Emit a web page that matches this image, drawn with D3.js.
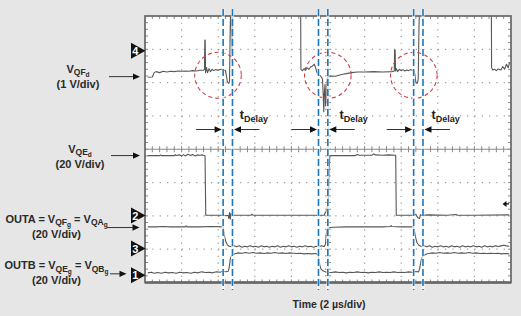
<!DOCTYPE html>
<html><head><meta charset="utf-8">
<script src="https://cdn.jsdelivr.net/npm/d3@7"></script>
<style>
html,body{margin:0;padding:0;background:#e6e6e6;}
svg{display:block;font-family:"Liberation Sans",Arial,sans-serif;}
</style></head><body>
<svg id="c" width="521" height="316"></svg>
<script>
// ---- data (time in µs, voltage in screen divisions from centre) ----
const ch4VQFd = [[0.15,2.16],[0.4,2.17],[0.5,2.3],[0.6,2.33],[0.8,2.3],[1.0,2.34],[1.2,2.32],[1.4,2.34],[1.6,2.33],[1.8,2.35],[2.0,2.34],[2.2,2.35],[2.4,2.34],[2.6,2.36],[2.8,2.35],[3.0,2.37],[3.2,2.37],[3.25,2.4],[3.27,3.28],[3.29,3.28],[3.31,2.3],[3.36,2.45],[3.42,2.3],[3.5,2.42],[3.58,2.33],[3.66,2.4],[3.75,2.36],[3.85,2.39],[4.0,2.37],[4.15,2.4],[4.3,2.38],[4.4,2.36],[4.45,2.2],[4.5,2.02],[4.58,1.98],[4.62,2.05],[4.65,3.4],[4.68,4.3],[4.71,4.2],[4.73,3.1],[4.76,2.9],[4.78,3.5],[4.8,4.5],[4.85,5],[8.5,5],[8.52,2.4],[8.6,2.36],[8.7,2.42],[8.78,2.37],[8.85,2.45],[8.95,2.4],[9.05,2.47],[9.15,2.5],[9.25,2.55],[9.32,2.45],[9.4,2.3],[9.5,2.22],[9.6,2.2],[9.7,2.1],[9.74,1.6],[9.77,1.13],[9.8,1.7],[9.84,1.95],[9.87,1.3],[9.9,1.4],[9.93,2.0],[9.97,2.15],[10.0,2.18],[10.2,2.2],[10.4,2.19],[10.6,2.22],[10.8,2.25],[11.0,2.27],[11.3,2.3],[11.6,2.32],[12.0,2.32],[12.5,2.33],[13.0,2.32],[13.5,2.33],[13.62,2.35],[13.64,2.98],[13.67,2.98],[13.69,2.35],[13.74,2.42],[13.8,2.33],[13.9,2.4],[14.0,2.36],[14.1,2.39],[14.2,2.35],[14.3,2.38],[14.4,2.36],[14.5,2.39],[14.6,2.37],[14.7,2.38],[14.76,2.2],[14.8,2.0],[14.88,1.98],[14.93,2.1],[14.97,3.6],[15.0,4.3],[15.05,4.5],[15.1,5],[18.92,5],[18.94,2.45],[19.0,2.38],[19.1,2.4],[19.2,2.36],[19.3,2.41],[19.45,2.38],[19.55,2.48],[19.65,2.4],[19.75,2.55],[19.85,2.45],[19.92,2.6]];
const ch2VQEd = [[0.15,-0.19],[0.8,-0.19],[0.85,-0.17],[0.9,-0.19],[1.6,-0.19],[1.65,-0.16],[1.7,-0.19],[1.9,-0.17],[2.0,-0.2],[2.1,-0.16],[2.2,-0.2],[2.35,-0.15],[2.5,-0.19],[2.6,-0.16],[2.75,-0.2],[2.85,-0.17],[3.0,-0.18],[3.15,-0.17],[3.28,-0.2],[3.32,-1.98],[4.2,-1.98],[4.55,-1.99],[4.58,-2.08],[4.62,-1.9],[4.66,-2.1],[4.7,-1.92],[4.74,-2.0],[4.8,-1.98],[5.8,-1.98],[5.85,-1.95],[5.9,-1.98],[9.8,-1.98],[9.85,-1.9],[9.9,-1.86],[9.95,-1.8],[10.02,-1.5],[10.06,-0.6],[10.1,-0.2],[10.2,-0.19],[11.5,-0.19],[11.6,-0.16],[11.7,-0.18],[12.4,-0.18],[12.5,-0.14],[12.6,-0.17],[13.0,-0.18],[13.3,-0.17],[13.7,-0.18],[13.73,-1.98],[14.7,-1.98],[14.8,-1.95],[14.9,-2.05],[15.0,-2.08],[15.05,-1.96],[15.1,-1.98],[15.5,-1.97],[16.5,-1.98],[17.0,-1.96],[17.05,-1.98],[18.0,-1.98],[19.9,-1.97]];
const ch3OUTA = [[0.15,-2.33],[0.6,-2.33],[1.0,-2.32],[1.4,-2.33],[2.2,-2.33],[2.25,-2.3],[2.3,-2.33],[3.0,-2.33],[3.6,-2.32],[4.27,-2.33],[4.3,-2.45],[4.35,-2.62],[4.42,-2.78],[4.5,-2.87],[4.6,-2.91],[4.7,-2.93],[4.85,-2.9],[5.0,-2.93],[5.15,-2.9],[5.3,-2.94],[5.45,-2.91],[5.6,-2.93],[5.75,-2.9],[5.9,-2.93],[6.05,-2.91],[6.2,-2.94],[6.35,-2.9],[6.5,-2.93],[6.65,-2.91],[6.8,-2.94],[6.95,-2.91],[7.1,-2.93],[7.25,-2.9],[7.4,-2.94],[7.55,-2.91],[7.7,-2.93],[7.85,-2.9],[8.0,-2.93],[8.15,-2.91],[8.3,-2.94],[8.45,-2.91],[8.6,-2.93],[8.75,-2.9],[8.9,-2.93],[9.05,-2.91],[9.2,-2.94],[9.35,-2.91],[9.5,-2.93],[9.65,-2.9],[9.8,-2.92],[9.86,-2.85],[9.9,-2.6],[9.94,-2.42],[10.0,-2.37],[10.1,-2.35],[10.3,-2.34],[11.0,-2.33],[12.0,-2.33],[13.0,-2.33],[13.4,-2.32],[13.45,-2.29],[13.5,-2.32],[14.0,-2.33],[14.68,-2.33],[14.72,-2.45],[14.78,-2.63],[14.86,-2.8],[14.96,-2.88],[15.1,-2.92],[15.25,-2.9],[15.4,-2.93],[15.55,-2.9],[15.7,-2.94],[15.85,-2.91],[16.0,-2.93],[16.15,-2.9],[16.3,-2.93],[16.45,-2.91],[16.6,-2.94],[16.75,-2.9],[16.9,-2.93],[17.05,-2.91],[17.2,-2.94],[17.35,-2.9],[17.5,-2.93],[17.65,-2.91],[17.8,-2.93],[17.95,-2.9],[18.1,-2.93],[18.25,-2.91],[18.4,-2.94],[18.55,-2.9],[18.7,-2.93],[18.85,-2.91],[19.0,-2.93],[19.15,-2.9],[19.3,-2.92],[19.45,-2.9],[19.6,-2.88],[19.75,-2.9],[19.9,-2.91]];
const ch1OUTB = [[0.15,-3.71],[0.35,-3.69],[0.5,-3.72],[0.7,-3.7],[0.9,-3.72],[1.1,-3.69],[1.3,-3.71],[1.5,-3.7],[1.7,-3.72],[1.9,-3.69],[2.1,-3.71],[2.3,-3.7],[2.5,-3.72],[2.7,-3.69],[2.9,-3.71],[3.1,-3.68],[3.3,-3.7],[3.5,-3.69],[3.7,-3.71],[3.9,-3.68],[4.1,-3.69],[4.25,-3.66],[4.4,-3.68],[4.55,-3.66],[4.6,-3.55],[4.66,-3.3],[4.72,-3.2],[4.8,-3.16],[4.95,-3.13],[5.1,-3.11],[5.3,-3.12],[5.5,-3.1],[5.7,-3.12],[5.9,-3.1],[6.1,-3.12],[6.3,-3.11],[6.5,-3.13],[6.7,-3.11],[6.9,-3.12],[7.1,-3.1],[7.3,-3.12],[7.5,-3.11],[7.7,-3.13],[7.9,-3.11],[8.1,-3.12],[8.3,-3.13],[8.5,-3.12],[8.7,-3.14],[8.9,-3.13],[9.1,-3.14],[9.3,-3.13],[9.45,-3.15],[9.5,-3.3],[9.56,-3.5],[9.62,-3.6],[9.72,-3.65],[9.85,-3.68],[10.0,-3.69],[10.2,-3.7],[10.4,-3.68],[10.6,-3.7],[10.8,-3.69],[11.0,-3.71],[11.2,-3.69],[11.4,-3.7],[11.6,-3.68],[11.8,-3.7],[12.0,-3.69],[12.2,-3.71],[12.4,-3.69],[12.6,-3.7],[12.8,-3.68],[13.0,-3.7],[13.2,-3.69],[13.4,-3.7],[13.6,-3.68],[13.8,-3.7],[14.0,-3.69],[14.2,-3.7],[14.4,-3.68],[14.6,-3.69],[14.8,-3.67],[14.95,-3.68],[15.0,-3.6],[15.05,-3.45],[15.12,-3.27],[15.2,-3.2],[15.35,-3.15],[15.5,-3.13],[15.7,-3.11],[15.9,-3.12],[16.1,-3.1],[16.3,-3.12],[16.5,-3.11],[16.7,-3.12],[16.9,-3.1],[17.1,-3.12],[17.3,-3.11],[17.5,-3.12],[17.7,-3.1],[17.9,-3.12],[18.1,-3.11],[18.3,-3.13],[18.5,-3.12],[18.7,-3.13],[18.9,-3.12],[19.1,-3.13],[19.3,-3.12],[19.5,-3.14],[19.7,-3.13],[19.9,-3.14]];
const delayLines = [4.27, 4.78, 9.48, 9.99, 14.68, 15.19];      // µs
const ringCentres = [[3.99, 2.22], [9.99, 2.22], [14.69, 2.22]]; // µs, div
const delayLabelT = [5.18, 10.63, 15.66];                         // µs
const channelMarkers = [["4", 2.96], ["2", -1.99], ["3", -2.98], ["1", -3.78]];
const triggerLevel = -1.64;
const labels = [
  {main:"V", parts:[["QF",1],["d",2]], scale:"(1 V/div)", y:2.29, arrowY:2.18},
  {main:"V", parts:[["QE",1],["d",2]], scale:"(20 V/div)", y:-0.1, arrowY:-0.19},
  {main:"OUTA = V", parts:[["QF",1],["g",2],[" = V",0],["QA",1],["g",2]], scale:"(20 V/div)", y:-2.21, arrowY:-2.35},
  {main:"OUTB = V", parts:[["QE",1],["g",2],[" = V",0],["QB",1],["g",2]], scale:"(20 V/div)", y:-3.6, arrowY:-3.74}
];
const xTitle = "Time (2 µs/div)";

// ---- drawing ----
const svg = d3.select("#c");
const X0 = 145, X1 = 511, Y0 = 16, Y1 = 282.5;
const x = d3.scaleLinear().domain([0, 20]).range([X0, X1]);
const y = d3.scaleLinear().domain([-4, 4]).range([Y1, Y0]);
const dx = (X1 - X0) / 50, dy = (Y1 - Y0) / 40;

svg.append("defs").append("clipPath").attr("id","clip")
  .append("rect").attr("x",X0).attr("y",Y0).attr("width",X1-X0).attr("height",Y1-Y0);

svg.append("rect").attr("x",X0).attr("y",Y0).attr("width",X1-X0).attr("height",Y1-Y0).attr("fill","#fff");

// dotted grid
const g = svg.append("g");
for (let i = 1; i < 10; i++) {
  if (i === 5) continue;
  g.append("line").attr("x1",x(i*2)).attr("x2",x(i*2)).attr("y1",Y0).attr("y2",Y1)
    .attr("stroke","#9a9a9a").attr("stroke-width",1.2).attr("stroke-dasharray",`1.2,${dy-1.2}`);
}
for (let j = -3; j <= 3; j++) {
  if (j === 0) continue;
  g.append("line").attr("x1",X0).attr("x2",X1).attr("y1",y(j)).attr("y2",y(j))
    .attr("stroke","#9a9a9a").attr("stroke-width",1.2).attr("stroke-dasharray",`1.2,${dx-1.2}`);
}
// centre axes with minor ticks
const cx = x(10), cy = y(0);
g.append("line").attr("x1",X0).attr("x2",X1).attr("y1",cy).attr("y2",cy).attr("stroke","#8a8a8a").attr("stroke-width",1);
g.append("line").attr("x1",cx).attr("x2",cx).attr("y1",Y0).attr("y2",Y1).attr("stroke","#8a8a8a").attr("stroke-width",1);
for (let k = 1; k < 50; k++) {
  const xx = X0 + k*dx;
  g.append("line").attr("x1",xx).attr("x2",xx).attr("y1",cy-3).attr("y2",cy+3).attr("stroke","#8a8a8a");
  g.append("line").attr("x1",xx).attr("x2",xx).attr("y1",Y0).attr("y2",Y0+3).attr("stroke","#8a8a8a");
  g.append("line").attr("x1",xx).attr("x2",xx).attr("y1",Y1-3).attr("y2",Y1).attr("stroke","#8a8a8a");
}
for (let k = 1; k < 40; k++) {
  const yy = Y0 + k*dy;
  g.append("line").attr("x1",cx-3).attr("x2",cx+3).attr("y1",yy).attr("y2",yy).attr("stroke","#8a8a8a");
  g.append("line").attr("x1",X0).attr("x2",X0+3).attr("y1",yy).attr("y2",yy).attr("stroke","#8a8a8a");
  g.append("line").attr("x1",X1-3).attr("x2",X1).attr("y1",yy).attr("y2",yy).attr("stroke","#8a8a8a");
}

// traces
const line = d3.line().x(d => x(d[0])).y(d => y(d[1]));
const tr = svg.append("g").attr("clip-path","url(#clip)");
[ch4VQFd, ch2VQEd, ch3OUTA, ch1OUTB].forEach(s => {
  tr.append("path").attr("d", line(s)).attr("fill","none")
    .attr("stroke","#575757").attr("stroke-width",1.1).attr("stroke-linejoin","round");
});

// frame
svg.append("rect").attr("x",X0).attr("y",Y0).attr("width",X1-X0).attr("height",Y1-Y0)
  .attr("fill","none").attr("stroke","#666").attr("stroke-width",1.7);
svg.append("line").attr("x1",X0).attr("x2",X1).attr("y1",Y1).attr("y2",Y1).attr("stroke","#666").attr("stroke-width",2.4);

// red dashed circles
ringCentres.forEach(c => {
  svg.append("ellipse").attr("cx",x(c[0])).attr("cy",y(c[1])).attr("rx",23.3).attr("ry",23)
    .attr("fill","none").attr("stroke","#c9404a").attr("stroke-width",1.1).attr("stroke-dasharray","4,3");
});

// blue dashed delay lines
delayLines.forEach(t => {
  svg.append("line").attr("x1",x(t)).attr("x2",x(t)).attr("y1",9).attr("y2",290)
    .attr("stroke","#ffffff").attr("stroke-width",3).attr("opacity",0.7);
  svg.append("line").attr("x1",x(t)).attr("x2",x(t)).attr("y1",9).attr("y2",290)
    .attr("stroke","#1b78bf").attr("stroke-width",1.6).attr("stroke-dasharray","7,3");
});

// tDelay arrows and labels
function arrow(xFrom, xTo, yy) {
  const dir = Math.sign(xTo - xFrom);
  svg.append("line").attr("x1",xFrom).attr("x2",xTo - dir*5).attr("y1",yy).attr("y2",yy)
    .attr("stroke","#333").attr("stroke-width",1);
  svg.append("path").attr("d",`M${xTo},${yy} L${xTo-dir*7},${yy-3.2} L${xTo-dir*7},${yy+3.2} Z`).attr("fill","#111");
}
const arrowY = 129.5;
for (let i = 0; i < 3; i++) {
  const a = x(delayLines[2*i]), b = x(delayLines[2*i+1]);
  arrow(a - 27, a - 1.5, arrowY);
  arrow(b + 27, b + 1.5, arrowY);
  const t = svg.append("text").attr("x", x(delayLabelT[i])).attr("y", 118.5)
    .attr("fill","#222").attr("font-weight","bold").attr("font-size",12.5).text("t");
  t.append("tspan").attr("font-size",9).attr("dy",3).text("Delay");
}

// channel markers
channelMarkers.forEach(m => {
  const yy = y(m[1]);
  svg.append("path").attr("d",`M131,${yy-8} L145.5,${yy} L131,${yy+8} Z`).attr("fill","#111");
  svg.append("text").attr("x",135.3).attr("y",yy+4).attr("text-anchor","middle")
    .attr("fill","#fff").attr("font-weight","bold").attr("font-size",11).text(m[0]);
});

// trigger level marker
{
  const yy = y(triggerLevel);
  svg.append("path").attr("d",`M502.5,${yy} L506.5,${yy-3} L506.5,${yy+3} Z`).attr("fill","#111");
  svg.append("line").attr("x1",505).attr("x2",509).attr("y1",yy).attr("y2",yy).attr("stroke","#111").attr("stroke-width",1.3);
}

// left labels
const lx = [78, 80, 56.5, 56.5];
const ax = [[109, 140], [111, 140], [107, 139.5], [110, 126.5]];
labels.forEach((L, i) => {
  const yy = y(L.y);
  const t = svg.append("text").attr("x", lx[i]).attr("y", yy).attr("text-anchor","middle")
    .attr("fill","#2a2a2a").attr("font-weight","bold").attr("font-size",11);
  t.append("tspan").text(L.main);
  let level = 0;
  L.parts.forEach(p => {
    const [txt, lv] = p;
    const off = [0, 2.5, 4.5][lv] - [0, 2.5, 4.5][level];
    t.append("tspan").attr("dy", off).attr("font-size", [11, 8.5, 6.5][lv]).text(txt);
    level = lv;
  });
  svg.append("text").attr("x", lx[i]).attr("y", yy + 15).attr("text-anchor","middle")
    .attr("fill","#2a2a2a").attr("font-weight","bold").attr("font-size",11).text(L.scale);
  arrow(ax[i][0], ax[i][1], y(L.arrowY));
});

// x title
svg.append("text").attr("x", 329).attr("y", 308).attr("text-anchor","middle")
  .attr("fill","#2a2a2a").attr("font-weight","bold").attr("font-size",10.5).text(xTitle);
</script>
</body></html>
